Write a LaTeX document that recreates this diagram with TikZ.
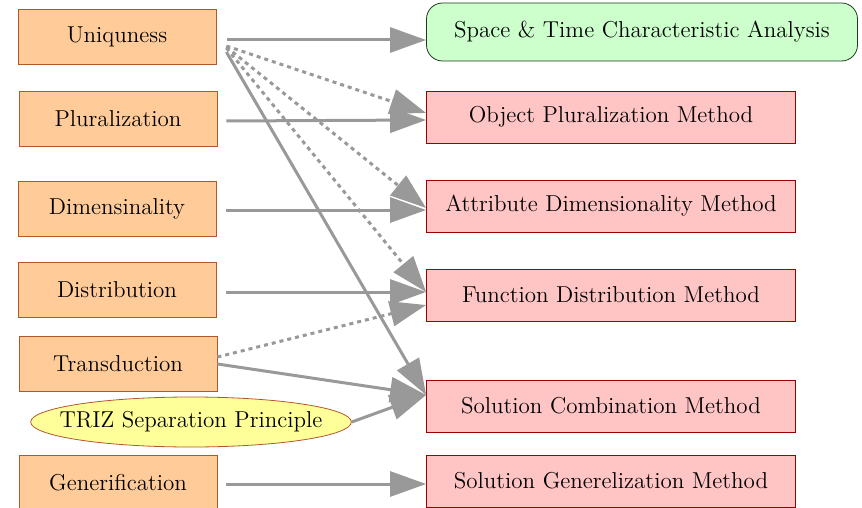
\documentclass[tikz,border=0pt]{standalone}
\usepackage{tikz}
\usetikzlibrary{positioning,arrows.meta,calc,shapes.geometric}
\definecolor{srcfill}{HTML}{FFCC99}
\definecolor{srcline}{HTML}{B0582A}
\definecolor{methfill}{HTML}{FFC4C4}
\definecolor{methline}{HTML}{990000}
\definecolor{anafill}{HTML}{CCFFCC}
\definecolor{analine}{HTML}{1E3A1E}
\definecolor{prinfill}{HTML}{FFFF99}
\definecolor{flowgray}{HTML}{999999}

\begin{document}
\begin{tikzpicture}[
  x=0.5pt, y=-0.5pt,
  font=\fontsize{11.5}{13}\selectfont,
  src/.style={draw=srcline, fill=srcfill, minimum width=99pt, minimum height=27.5pt},
  meth/.style={draw=methline, fill=methfill, minimum width=184.5pt, minimum height=26pt},
  ana/.style={draw=analine, fill=anafill, rounded corners=8pt,
              minimum width=215.5pt, minimum height=29pt},
  prin/.style={ellipse, draw=srcline, fill=prinfill, inner xsep=-9pt, inner ysep=0pt,
               minimum width=158pt, minimum height=25pt},
  flow/.style={draw=flowgray, line width=1.5pt,
               -{Triangle[length=18pt, width=12.5pt]}},
  hint/.style={flow, dash pattern=on 2pt off 2pt},
]
  \useasboundingbox (0,0) rectangle (862,508);

  % ---- left column: properties ----------------------------------------------
  \node[src] (uniq)  at (117,37)  {Uniquness};
  \node[src] (plur)  at (118,119) {Pluralization};
  \node[src] (dimen) at (117,209) {Dimensinality};
  \node[src] (distr) at (117,290) {Distribution};
  \node[src] (trans) at (118,364) {Transduction};
  \node[prin] (triz) at (191,422) {TRIZ Separation Principle};
  \node[src] (gener) at (118,483) {Generification};

  % ---- right column: methods ------------------------------------------------
  \node[ana]  (space) at (642,32)  {Space \& Time Characteristic Analysis};
  \node[meth] (objm)  at (611,117) {Object Pluralization Method};
  \node[meth] (attr)  at (611,206) {Attribute Dimensionality Method};
  \node[meth] (func)  at (611,295) {Function Distribution Method};
  \node[meth] (comb)  at (611,406) {Solution Combination Method};
  \node[meth] (soln)  at (611,481) {Solution Generelization Method};

  % ---- flows ------------------------------------------------------------------
  \draw[flow] ($(uniq.east)+(11,3)$)  -- ($(space.west)+(0,8)$);
  \draw[hint] ($(uniq.east)+(10,9)$)  -- ($(objm.west)+(0,-4)$);
  \draw[hint] ($(uniq.east)+(10,10)$) -- ($(attr.west)+(0,2)$);
  \draw[hint] ($(uniq.east)+(10,11)$) -- ($(func.west)+(0,-3)$);
  \draw[flow] ($(uniq.east)+(10,15)$) -- ($(comb.west)+(0,-11)$);

  \draw[flow] ($(plur.east)+(9,2)$)   -- ($(objm.west)+(0,3)$);
  \draw[flow] ($(dimen.east)+(10,1)$) -- ($(attr.west)+(0,4)$);
  \draw[flow] ($(distr.east)+(10,2)$) -- ($(func.west)+(0,-3)$);

  \draw[hint] ($(trans.east)+(0,-7)$) -- ($(func.west)+(0,10)$);
  \draw[flow] (trans.east)            -- ($(comb.west)+(0,-11)$);
  \draw[flow] (triz.east)             -- ($(comb.west)+(0,-11)$);

  \draw[flow] ($(gener.east)+(9,1)$)  -- ($(soln.west)+(0,3)$);
\end{tikzpicture}
\end{document}
